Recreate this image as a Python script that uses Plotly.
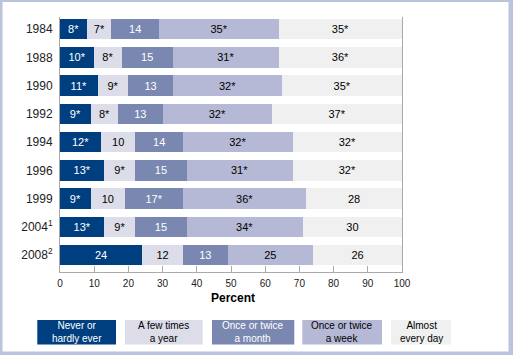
import plotly.graph_objects as go

years = ["1984", "1988", "1990", "1992", "1994", "1996", "1999", "2004<sup>1</sup>", "2008<sup>2</sup>"]
series_names = ["Never or hardly ever", "A few times a year", "Once or twice a month",
                "Once or twice a week", "Almost every day"]

never = [8, 10, 11, 9, 12, 13, 9, 13, 24]
few_year = [7, 8, 9, 8, 10, 9, 10, 9, 12]
month = [14, 15, 13, 13, 14, 15, 17, 15, 13]
week = [35, 31, 32, 32, 32, 31, 36, 34, 25]
daily = [36, 36, 35, 38, 32, 32, 28, 29, 26]

never_lbl = ["8*", "10*", "11*", "9*", "12*", "13*", "9*", "13*", "24"]
few_year_lbl = ["7*", "8*", "9*", "8*", "10", "9*", "10", "9*", "12"]
month_lbl = ["14", "15", "13", "13", "14", "15", "17*", "15", "13"]
week_lbl = ["35*", "31*", "32*", "32*", "32*", "31*", "36*", "34*", "25"]
daily_lbl = ["35*", "36*", "35*", "37*", "32*", "32*", "28", "30", "26"]

x_ticks = [0, 10, 20, 30, 40, 50, 60, 70, 80, 90, 100]

colors = ["#003f7f", "#dcdde9", "#7a87b0", "#b6b9d6", "#f0f0f0"]
text_colors = ["white", "black", "white", "black", "black"]
legend_labels = ["Never or<br>hardly ever", "A few times<br>a year",
                 "Once or twice<br>a month", "Once or twice<br>a week",
                 "Almost<br>every day"]

FONT = "Arial, Liberation Sans, sans-serif"
W, H = 513, 355
L, R, T, B = 60, 402, 17, 272

fig = go.Figure()
for name, vals, lbls, c, tc in zip(series_names, [never, few_year, month, week, daily],
                                   [never_lbl, few_year_lbl, month_lbl, week_lbl, daily_lbl],
                                   colors, text_colors):
    fig.add_trace(go.Bar(
        y=years, x=vals, orientation="h", name=name,
        marker=dict(color=c, line=dict(width=0)),
        text=lbls, textposition="inside", insidetextanchor="middle", textangle=0,
        textfont=dict(family=FONT, size=11, color=tc),
        constraintext="none", hoverinfo="skip", showlegend=False,
    ))

def px_x(p):
    return (p - L) / (R - L)

def px_y(p):
    return (B - p) / (B - T)

shapes = []
# outer frame
frame_col = "#bcc4dc"
for x0, x1, y0, y1 in [(0, 2.5, 0, H), (508.5, W, 0, H), (0, W, 0, 2), (0, W, 351.5, H)]:
    shapes.append(dict(type="rect", xref="paper", yref="paper",
                       x0=px_x(x0), x1=px_x(x1), y0=px_y(y1), y1=px_y(y0),
                       fillcolor=frame_col, line=dict(width=0), layer="above"))

annotations = []
boxes = [(37.3, 116), (125, 202.7), (212, 294.3), (302.3, 382), (391, 451)]
for (bx0, bx1), c, tc, lab in zip(boxes, colors, text_colors, legend_labels):
    shapes.append(dict(type="rect", xref="paper", yref="paper",
                       x0=px_x(bx0), x1=px_x(bx1), y0=px_y(344.5), y1=px_y(320),
                       fillcolor=c, line=dict(width=0)))
    annotations.append(dict(text=lab, x=px_x((bx0 + bx1) / 2), y=px_y(332.3),
                            xref="paper", yref="paper",
                            showarrow=False, xanchor="center", yanchor="middle",
                            font=dict(family=FONT, size=10, color=tc)))

annotations.append(dict(text="<b>Percent</b>", x=px_x(233), y=px_y(297.5), xref="paper", yref="paper",
                        showarrow=False, xanchor="center", yanchor="middle",
                        font=dict(family=FONT, size=12, color="black")))

fig.update_layout(
    barmode="stack", bargap=0.27,
    width=W, height=H,
    margin=dict(l=L, r=W - R, t=T, b=H - B, pad=0),
    paper_bgcolor="white", plot_bgcolor="white",
    font=dict(family=FONT, color="#222222"),
    shapes=shapes, annotations=annotations,
    xaxis=dict(range=[0, 100], tickvals=x_ticks, ticktext=[str(v) for v in x_ticks],
               ticks="inside", ticklen=6, tickcolor="#aaaaaa", tickwidth=1,
               showline=True, linecolor="#aaaaaa", linewidth=1, showgrid=False, zeroline=False,
               tickfont=dict(family=FONT, size=10, color="#222222"), ticklabelstandoff=2,
               fixedrange=True),
    yaxis=dict(type="category", categoryorder="array", categoryarray=years,
               range=[8.6, -0.43], showline=True, mirror=True, linecolor="#aaaaaa", linewidth=1,
               showgrid=False, zeroline=False, ticks="", ticklabelstandoff=4,
               tickfont=dict(family=FONT, size=12, color="#222222"), fixedrange=True),
)

fig.write_html("out.html", config={"displayModeBar": False},
               post_script="document.body.style.margin='0';document.body.style.overflow='hidden';")
